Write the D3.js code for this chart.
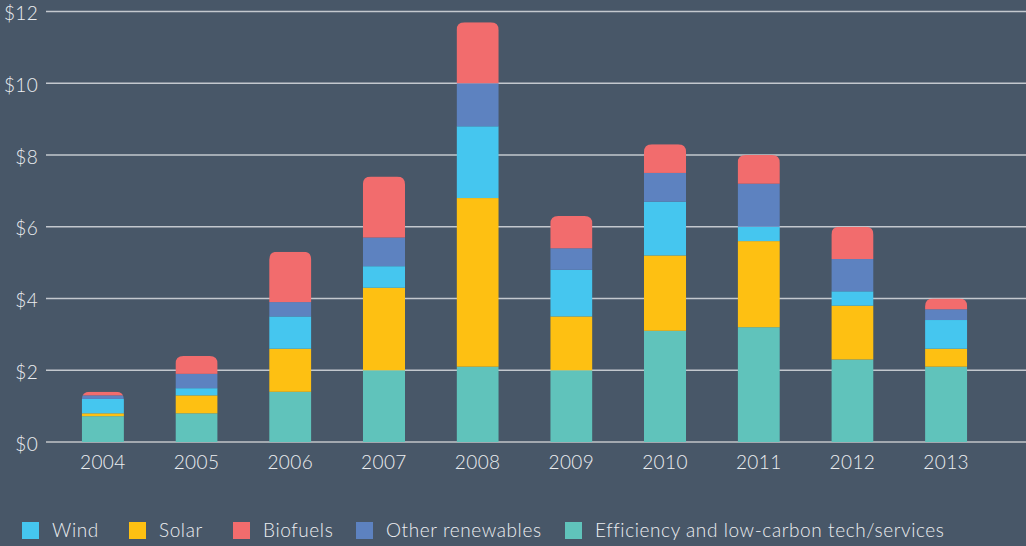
<!DOCTYPE html>
<html>
<head>
<meta charset="utf-8">
<script src="https://cdn.jsdelivr.net/npm/d3@7"></script>
<style>
  html, body { margin: 0; padding: 0; background: #485768; }
  svg { display: block; font-family: "Lato", "Open Sans", sans-serif; }
</style>
</head>
<body>
<svg id="chart" width="1026" height="546"></svg>
<script>
// Data (billions of dollars)
const years = ["2004", "2005", "2006", "2007", "2008", "2009", "2010", "2011", "2012", "2013"];
const efficiency = [0.72, 0.8, 1.4, 2.0, 2.1, 2.0, 3.1, 3.2, 2.3, 2.1];
const solar = [0.08, 0.5, 1.2, 2.3, 4.7, 1.5, 2.1, 2.4, 1.5, 0.5];
const wind = [0.4, 0.2, 0.9, 0.6, 2.0, 1.3, 1.5, 0.4, 0.4, 0.8];
const otherRenewables = [0.1, 0.4, 0.4, 0.8, 1.2, 0.6, 0.8, 1.2, 0.9, 0.3];
const biofuels = [0.1, 0.5, 1.4, 1.7, 1.7, 0.9, 0.8, 0.8, 0.9, 0.3];
const yTicks = [0, 2, 4, 6, 8, 10, 12];

// stacking order, bottom to top
const seriesKeys = ["efficiency", "solar", "wind", "other", "biofuels"];
const colors = {
  efficiency: "#60c3bb",
  solar: "#fec012",
  wind: "#45c6ef",
  other: "#5d82c0",
  biofuels: "#f26c6d"
};
const legendItems = [
  { key: "wind", label: "Wind" },
  { key: "solar", label: "Solar" },
  { key: "biofuels", label: "Biofuels" },
  { key: "other", label: "Other renewables" },
  { key: "efficiency", label: "Efficiency and low-carbon tech/services" }
];

const rows = years.map((y, i) => ({
  year: y,
  efficiency: efficiency[i],
  solar: solar[i],
  wind: wind[i],
  other: otherRenewables[i],
  biofuels: biofuels[i]
}));

const svg = d3.select("#chart");
const width = +svg.attr("width");

const x = d3.scaleBand()
  .domain(years)
  .range([56, 993])
  .paddingInner(0.55)
  .paddingOuter(0.275);

const y = d3.scaleLinear().domain([0, 12]).range([442, 11.5]);

// gridlines
svg.append("g")
  .selectAll("line")
  .data(yTicks)
  .enter()
  .append("line")
  .attr("x1", 46)
  .attr("x2", width)
  .attr("y1", (d) => y(d))
  .attr("y2", (d) => y(d))
  .attr("stroke", (d) => (d === 0 ? "#a3a9b0" : "#c3c8ce"))
  .attr("stroke-width", (d) => (d === 0 ? 2 : 1.3));

// y labels
svg.append("g")
  .selectAll("text")
  .data(yTicks)
  .enter()
  .append("text")
  .attr("x", 38)
  .attr("y", (d) => y(d) + 4)
  .attr("text-anchor", "end")
  .attr("dominant-baseline", "middle")
  .attr("fill", "#eceef1")
  .attr("font-size", 19)
  .attr("font-weight", 300)
  .attr("letter-spacing", 0.3)
  .text((d) => "$" + d);

const stack = d3.stack().keys(seriesKeys);
const stacked = stack(rows);

// rounded-top clip per bar
const radius = 8;
const defs = svg.append("defs");
rows.forEach((r, i) => {
  const total = stacked[stacked.length - 1][i][1];
  const x0 = x(r.year);
  const x1 = x0 + x.bandwidth();
  const top = y(total);
  const bottom = y(0);
  const rr = Math.min(radius, (bottom - top));
  const p = d3.path();
  p.moveTo(x0, bottom);
  p.lineTo(x0, top + rr);
  p.quadraticCurveTo(x0, top, x0 + rr, top);
  p.lineTo(x1 - rr, top);
  p.quadraticCurveTo(x1, top, x1, top + rr);
  p.lineTo(x1, bottom);
  p.closePath();
  defs.append("clipPath").attr("id", "clip-" + r.year)
    .append("path").attr("d", p.toString());
});

const barGroups = svg.append("g")
  .selectAll("g")
  .data(years)
  .enter()
  .append("g")
  .attr("clip-path", (d) => `url(#clip-${d})`);

barGroups.each(function (yr, i) {
  d3.select(this)
    .selectAll("rect")
    .data(stacked.map((s) => ({ key: s.key, v: s[i] })))
    .enter()
    .append("rect")
    .attr("x", x(yr))
    .attr("width", x.bandwidth())
    .attr("y", (d) => y(d.v[1]))
    .attr("height", (d) => y(d.v[0]) - y(d.v[1]))
    .attr("fill", (d) => colors[d.key]);
});

// x labels
svg.append("g")
  .selectAll("text")
  .data(years)
  .enter()
  .append("text")
  .attr("x", (d) => x(d) + x.bandwidth() / 2)
  .attr("y", 464)
  .attr("text-anchor", "middle")
  .attr("dominant-baseline", "middle")
  .attr("fill", "#eceef1")
  .attr("font-size", 19)
  .attr("font-weight", 300)
  .attr("letter-spacing", 0.4)
  .text((d) => d);

// legend
const legendX = [22, 129, 233, 356, 565];
const legend = svg.append("g")
  .selectAll("g")
  .data(legendItems)
  .enter()
  .append("g")
  .attr("transform", (d, i) => `translate(${legendX[i]},522)`);

legend.append("rect")
  .attr("width", 17)
  .attr("height", 17)
  .attr("fill", (d) => colors[d.key]);

legend.append("text")
  .attr("x", 30)
  .attr("y", 10.5)
  .attr("dominant-baseline", "middle")
  .attr("fill", "#eceef1")
  .attr("font-size", 19)
  .attr("font-weight", 300)
  .attr("letter-spacing", 0.6)
  .text((d) => d.label);
</script>
</body>
</html>
